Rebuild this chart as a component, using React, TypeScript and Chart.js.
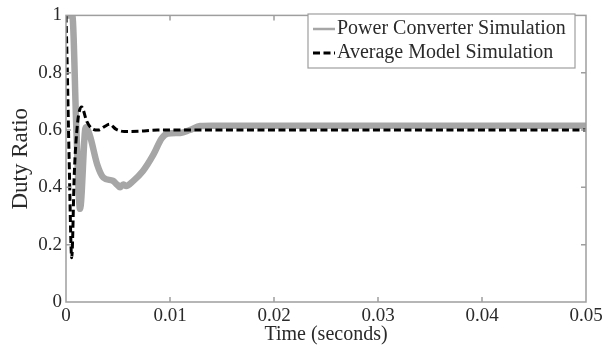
import React, { useEffect, useRef } from "react";
import { Chart, registerables } from "chart.js";

Chart.register(...registerables);

const timeGray = [0, 0.0006, 0.001, 0.00135, 0.0019, 0.0023, 0.003, 0.0036, 0.0045, 0.0049, 0.0052, 0.0055, 0.0058, 0.0064, 0.0074, 0.0084, 0.0092, 0.0098, 0.011, 0.0119, 0.0129, 0.014, 0.05];
const dutyGray = [1.0, 1.0, 0.6, 0.325, 0.61, 0.58, 0.48, 0.434, 0.423, 0.41, 0.4, 0.41, 0.405, 0.42, 0.457, 0.514, 0.571, 0.588, 0.59, 0.6, 0.614, 0.615, 0.615];

const timeAvg = [0, 0.0001, 0.0003, 0.00055, 0.0008, 0.0011, 0.0015, 0.002, 0.0025, 0.0031, 0.0037, 0.0042, 0.0048, 0.0056, 0.007, 0.0088, 0.05];
const dutyAvg = [1.0, 0.85, 0.5, 0.154, 0.45, 0.62, 0.68, 0.63, 0.605, 0.6, 0.612, 0.62, 0.603, 0.595, 0.596, 0.6, 0.6];

const seriesNames = ["Power Converter Simulation", "Average Model Simulation"];

const xTickValues = [0, 0.01, 0.02, 0.03, 0.04, 0.05];
const xTickLabels = ["0", "0.01", "0.02", "0.03", "0.04", "0.05"];
const yTickValues = [0, 0.2, 0.4, 0.6, 0.8, 1];
const yTickLabels = ["0", "0.2", "0.4", "0.6", "0.8", "1"];

const xTitle = "Time (seconds)";
const yTitle = "Duty Ratio";

const FONT = "'Liberation Serif', 'Times New Roman', serif";
const GRAY = "#a6a6a6";
const AXIS = "#9e9e9e";
const TEXT = "#2a2a2a";

const frameAndLegend = {
  id: "frameAndLegend",
  afterDatasetsDraw(chart: any) {
    const { ctx, chartArea } = chart;
    const { left, right, top, bottom } = chartArea;
    const xs = chart.scales.x;
    const ys = chart.scales.y;
    ctx.save();
    ctx.strokeStyle = AXIS;
    ctx.lineWidth = 1.5;
    ctx.strokeRect(left, top, right - left, bottom - top);
    const tl = 5;
    ctx.beginPath();
    xTickValues.forEach((v) => {
      const px = xs.getPixelForValue(v);
      if (px <= left + 1 || px >= right - 1) return;
      ctx.moveTo(px, bottom);
      ctx.lineTo(px, bottom - tl);
      ctx.moveTo(px, top);
      ctx.lineTo(px, top + tl);
    });
    yTickValues.forEach((v) => {
      const py = ys.getPixelForValue(v);
      if (py <= top + 1 || py >= bottom - 1) return;
      ctx.moveTo(left, py);
      ctx.lineTo(left + tl, py);
      ctx.moveTo(right, py);
      ctx.lineTo(right - tl, py);
    });
    ctx.stroke();

    // legend box
    const bx = 308, by = 14, bw = 267, bh = 54;
    ctx.fillStyle = "#ffffff";
    ctx.fillRect(bx, by, bw, bh);
    ctx.strokeStyle = AXIS;
    ctx.lineWidth = 1.2;
    ctx.strokeRect(bx, by, bw, bh);

    const rows = [by + 15, by + 39];
    ctx.strokeStyle = GRAY;
    ctx.lineWidth = 2.5;
    ctx.setLineDash([]);
    ctx.beginPath();
    ctx.moveTo(313, rows[0]);
    ctx.lineTo(335, rows[0]);
    ctx.stroke();
    ctx.strokeStyle = "#000";
    ctx.lineWidth = 3;
    ctx.setLineDash([7, 3.5]);
    ctx.beginPath();
    ctx.moveTo(313, rows[1]);
    ctx.lineTo(335, rows[1]);
    ctx.stroke();
    ctx.setLineDash([]);

    ctx.fillStyle = TEXT;
    ctx.font = `20px ${FONT}`;
    ctx.textBaseline = "middle";
    ctx.textAlign = "left";
    ctx.fillText(seriesNames[0], 337, rows[0]);
    ctx.fillText(seriesNames[1], 337, rows[1]);
    ctx.restore();
  },
};

export default function App() {
  const ref = useRef<HTMLCanvasElement | null>(null);

  useEffect(() => {
    if (!ref.current) return;
    const chart = new Chart(ref.current, {
      type: "line",
      data: {
        datasets: [
          {
            label: seriesNames[0],
            data: timeGray.map((t, i) => ({ x: t, y: dutyGray[i] })),
            borderColor: GRAY,
            borderWidth: 6.5,
            pointRadius: 0,
            cubicInterpolationMode: "monotone",
            fill: false,
            order: 2,
            borderJoinStyle: "round",
            borderCapStyle: "round",
          },
          {
            label: seriesNames[1],
            data: timeAvg.map((t, i) => ({ x: t, y: dutyAvg[i] })),
            borderColor: "#000000",
            borderWidth: 3,
            borderDash: [7, 3.5],
            pointRadius: 0,
            cubicInterpolationMode: "monotone",
            fill: false,
            order: 1,
          },
        ],
      },
      options: {
        animation: false,
        responsive: true,
        maintainAspectRatio: false,
        layout: { padding: { top: 10, right: 27, left: 0, bottom: 0 } },
        plugins: {
          legend: { display: false },
          tooltip: { enabled: false },
        },
        scales: {
          x: {
            type: "linear",
            min: 0,
            max: 0.05,
            grid: { display: false, drawTicks: false },
            border: { display: false },
            afterFit: (s: any) => {
              s.height = 48;
            },
            afterBuildTicks: (s: any) => {
              s.ticks = xTickValues.map((v) => ({ value: v }));
            },
            ticks: {
              autoSkip: false,
              maxRotation: 0,
              padding: 3,
              color: TEXT,
              font: { family: FONT, size: 19 },
              callback: (_v: any, i: number) => xTickLabels[i],
            },
            title: {
              display: true,
              text: xTitle,
              color: TEXT,
              font: { family: FONT, size: 20 },
              padding: { top: 0, bottom: 3 },
            },
          },
          y: {
            type: "linear",
            min: 0,
            max: 1,
            grid: { display: false, drawTicks: false },
            border: { display: false },
            afterFit: (s: any) => {
              s.width = 66;
            },
            afterBuildTicks: (s: any) => {
              s.ticks = yTickValues.map((v) => ({ value: v }));
            },
            ticks: {
              autoSkip: false,
              padding: 4,
              color: TEXT,
              font: { family: FONT, size: 19 },
              callback: (_v: any, i: number) => yTickLabels[i],
            },
            title: {
              display: true,
              text: yTitle,
              color: TEXT,
              font: { family: FONT, size: 23 },
              padding: { top: 7, bottom: 0 },
            },
          },
        },
      },
      plugins: [frameAndLegend],
    });
    return () => chart.destroy();
  }, []);

  return (
    <div style={{ position: "fixed", left: 0, top: 0, width: 613, height: 350, background: "#fff" }}>
      <canvas ref={ref} />
    </div>
  );
}
